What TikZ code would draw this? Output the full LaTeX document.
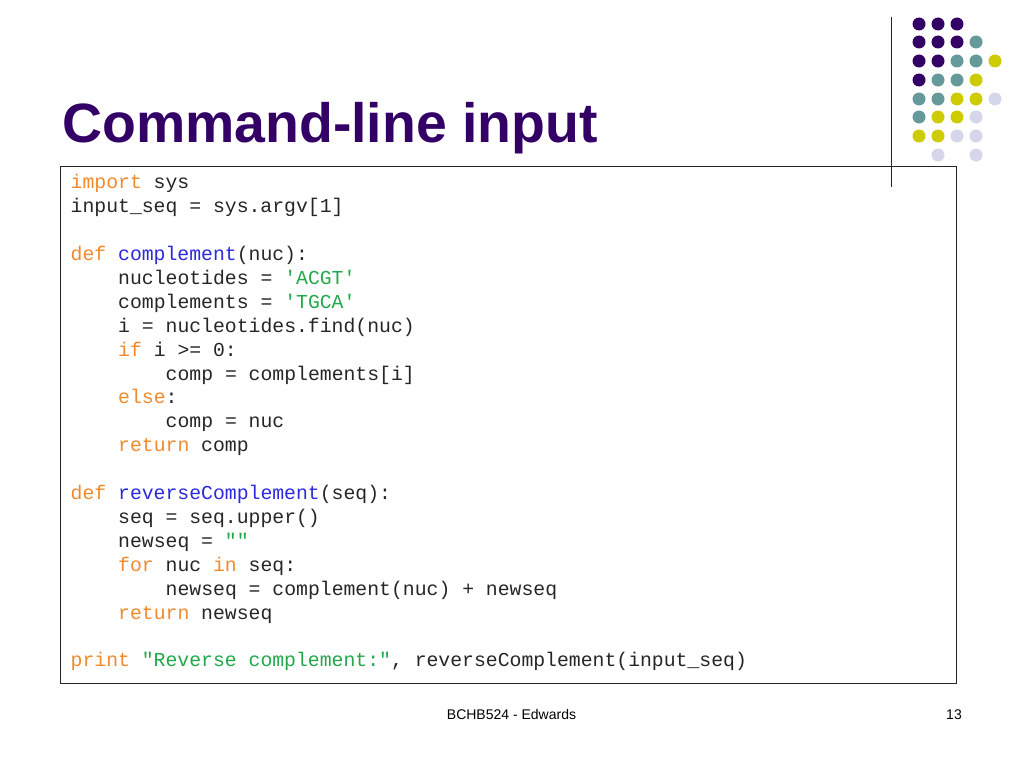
\documentclass[tikz,border=0pt]{standalone}
\usepackage{fontspec}
\setmainfont{Liberation Sans}
\setmonofont{Liberation Mono}
\definecolor{titlec}{HTML}{330066}
\definecolor{tealc}{HTML}{669999}
\definecolor{yellowc}{HTML}{CCCC00}
\definecolor{lavc}{HTML}{D6D6EA}
\definecolor{kwc}{HTML}{F08A2C}
\definecolor{fnc}{HTML}{2A2ADC}
\definecolor{strc}{HTML}{22A84A}
\newcommand{\kwd}[1]{\textcolor{kwc}{#1}}
\newcommand{\fnc}[1]{\textcolor{fnc}{#1}}
\newcommand{\strg}[1]{\textcolor{strc}{#1}}
\tikzset{
  x=1pt,y=-1pt,
  codeline/.style={anchor=base west,inner sep=0pt,font=\fontsize{19.77}{24}\selectfont\ttfamily\frenchspacing,text=black!85},
  footer/.style={anchor=base,inner sep=0pt,font=\fontsize{14}{16}\selectfont,text=black},
  dotp/.style={circle,fill=titlec,draw=none,minimum size=13pt,inner sep=0pt},
  dott/.style={circle,fill=tealc,draw=none,minimum size=13pt,inner sep=0pt},
  doty/.style={circle,fill=yellowc,draw=none,minimum size=13pt,inner sep=0pt},
  dotl/.style={circle,fill=lavc,draw=none,minimum size=13pt,inner sep=0pt}
}
\begin{document}
\begin{tikzpicture}
\useasboundingbox (0,0) rectangle (1024,768);
\fill[white] (0,0) rectangle (1024,768);
% title
\node[anchor=base west,inner sep=0pt,font=\fontsize{55.4}{60}\selectfont\bfseries,text=titlec] (title) at (62,142) {Command-line input};
% code box
\node[draw=black!85,line width=1.05pt,minimum width=896pt,minimum height=517pt,inner sep=0pt,anchor=north west] (box) at (59.5,165.5) {};
% vertical rule
\coordinate (ruletop) at (891.5,17);
\coordinate (rulebot) at (891.5,187);
\draw[black!85,line width=1.5pt] (ruletop) -- (rulebot);
% dots
\foreach \name/\st/\px/\py in {
 a1/dotp/919/24,a2/dotp/938/24,a3/dotp/957/24,
 b1/dotp/919/42,b2/dotp/938/42,b3/dotp/957/42,b4/dott/976/42,
 c1/dotp/919/61,c2/dotp/938/61,c3/dott/957/61,c4/dott/976/61,c5/doty/995/61,
 d1/dotp/919/80,d2/dott/938/80,d3/dott/957/80,d4/doty/976/80,
 e1/dott/919/99,e2/dott/938/99,e3/doty/957/99,e4/doty/976/99,e5/dotl/995/99,
 f1/dott/919/117,f2/doty/938/117,f3/doty/957/117,f4/dotl/976/117,
 g1/doty/919/136,g2/doty/938/136,g3/dotl/957/136,g4/dotl/976/136,
 h2/dotl/938/155,h4/dotl/976/155}
  \node[\st] (\name) at (\px,\py) {};
% code
\def\xa{70.5}\def\xb{118}\def\xc{165.5}
\node[codeline] (l1) at (\xa,188.7) {\kwd{import} sys};
\node[codeline] (l2) at (\xa,212.6) {input\_seq = sys.argv[1]};
\node[codeline] (l4) at (\xa,260.5) {\kwd{def} \fnc{complement}(nuc):};
\node[codeline] (l5) at (\xb,284.4) {nucleotides = \strg{'ACGT'}};
\node[codeline] (l6) at (\xb,308.3) {complements = \strg{'TGCA'}};
\node[codeline] (l7) at (\xb,332.2) {i = nucleotides.find(nuc)};
\node[codeline] (l8) at (\xb,356.1) {\kwd{if} i >= 0:};
\node[codeline] (l9) at (\xc,380) {comp = complements[i]};
\node[codeline] (l10) at (\xb,403.9) {\kwd{else}:};
\node[codeline] (l11) at (\xc,427.8) {comp = nuc};
\node[codeline] (l12) at (\xb,451.7) {\kwd{return} comp};
\node[codeline] (l14) at (\xa,499.5) {\kwd{def} \fnc{reverseComplement}(seq):};
\node[codeline] (l15) at (\xb,523.4) {seq = seq.upper()};
\node[codeline] (l16) at (\xb,547.3) {newseq = \strg{""}};
\node[codeline] (l17) at (\xb,571.2) {\kwd{for} nuc \kwd{in} seq:};
\node[codeline] (l18) at (\xc,595.1) {newseq = complement(nuc) + newseq};
\node[codeline] (l19) at (\xb,619) {\kwd{return} newseq};
\node[codeline] (l21) at (\xa,666.8) {\kwd{print} \strg{"Reverse complement:"}, reverseComplement(input\_seq)};
% footer
\node[footer] (foot) at (511.5,719) {BCHB524 - Edwards};
\node[footer] (page) at (954,719) {13};
\end{tikzpicture}
\end{document}
